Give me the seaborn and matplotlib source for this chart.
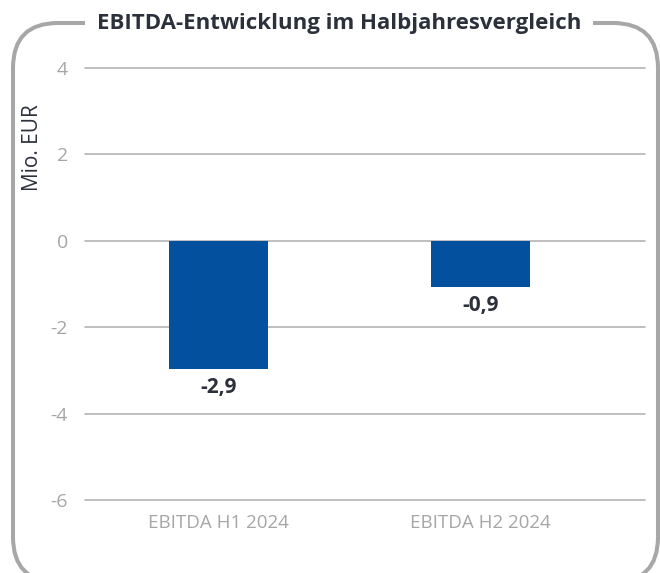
import matplotlib
matplotlib.use("Agg")
import matplotlib.pyplot as plt
import seaborn as sns
import pandas as pd
from matplotlib.patches import FancyBboxPatch

# data
categories = ["EBITDA H1 2024", "EBITDA H2 2024"]
values = [-2.96, -1.06]
value_labels = ["-2,9", "-0,9"]
y_ticks = [-6, -4, -2, 0, 2, 4]

title = "EBITDA-Entwicklung im Halbjahresvergleich"
y_label = "Mio. EUR"

bar_color = "#03519e"
grid_color = "#b4b4b4"
tick_color = "#a6a6a6"
dark = "#2b303b"
frame_color = "#a7a7a7"

sns.set_style("white")
plt.rcParams["font.family"] = ["Open Sans", "DejaVu Sans"]

W, H = 660, 573
fig = plt.figure(figsize=(W / 100, H / 100), dpi=100)
left, right, top, bottom = 85, 645, 68, 500
ax = fig.add_axes([left / W, 1 - bottom / H, (right - left) / W, (bottom - top) / H])

df = pd.DataFrame({"cat": categories, "val": values})
sns.barplot(data=df, x="cat", y="val", color=bar_color, width=0.378,
            saturation=1, linewidth=0, edgecolor="none", ax=ax, zorder=3)

ax.set_ylim(-6, 4)
ax.set_yticks(y_ticks)
ax.set_yticklabels([str(t) for t in y_ticks], fontsize=14, color=tick_color)
ax.set_xlim(-0.51, 1.628)
ax.set_xticks(range(len(categories)))
ax.set_xticklabels(categories, fontsize=13.5, color=tick_color)
ax.set_xlabel("")
ax.set_ylabel("")

ax.grid(axis="y", color=grid_color, linewidth=1.2, zorder=0)
for gl in ax.get_ygridlines():
    gl.set_clip_on(False)
ax.tick_params(axis="y", length=7.2, width=1.2, color=grid_color, pad=5)
ax.tick_params(axis="x", length=0, pad=10)
sns.despine(ax=ax, left=True, bottom=True)

# value labels under the bars
for i, (v, lab) in enumerate(zip(values, value_labels)):
    ax.annotate(lab, (i, v), xytext=(0, -6), textcoords="offset points",
                ha="center", va="top", fontsize=15, fontweight="bold", color=dark)

fig.text(33 / W, 1 - 148 / H, y_label, rotation=90, ha="center", va="center",
         fontsize=15, color=dark)

# rounded frame around the chart
frame = FancyBboxPatch((13, -9), 645, 559, boxstyle="round,pad=0,rounding_size=45",
                       transform=None, fill=False, edgecolor=frame_color,
                       linewidth=2.9, zorder=1)
fig.patches.append(frame)

fig.text(339 / W, 1 - 24 / H, title, ha="center", va="center", fontsize=16,
         fontweight="bold", color=dark, zorder=3,
         bbox=dict(boxstyle="square,pad=0.55", fc="white", ec="none"))

fig.savefig("out.png", dpi=100)
